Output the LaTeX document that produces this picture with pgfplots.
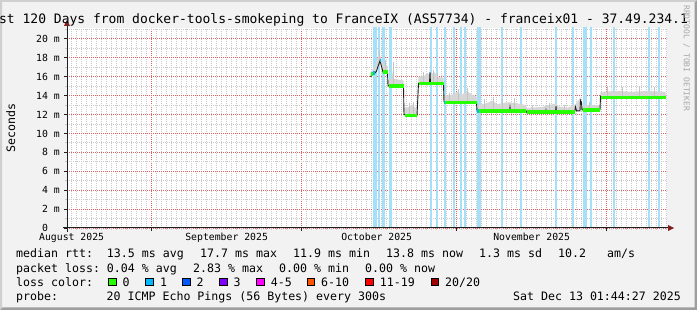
\documentclass[border=0pt]{standalone}
\usepackage{fontspec}
\setmainfont{DejaVu Sans Mono}
\usepackage{pgfplots}
\usepackage{pgfplotstable}
\pgfplotsset{compat=1.18}

\definecolor{bgc}{HTML}{F2F2F2}
\definecolor{shadea}{HTML}{CFCFCF}
\definecolor{shadeb}{HTML}{9E9E9E}
\definecolor{gridc}{HTML}{CACACA}
\definecolor{mgridc}{HTML}{E06262}
\definecolor{axisc}{HTML}{1F1F1F}
\definecolor{arrowc}{HTML}{801F1F}
\definecolor{lossbg}{RGB}{165,223,248}
\definecolor{smoke}{HTML}{D6D6D6}
\definecolor{spk}{HTML}{C4C4C4}
\definecolor{wmark}{HTML}{A8A8A8}
\definecolor{lc0}{HTML}{26FF00}
\definecolor{lc1}{HTML}{00B8FF}
\definecolor{lc2}{HTML}{0059FF}
\definecolor{lc3}{HTML}{7E00FF}
\definecolor{lc4}{HTML}{FF00FF}
\definecolor{lc6}{HTML}{FF5500}
\definecolor{lc11}{HTML}{FF0000}
\definecolor{lc20}{HTML}{A10000}

\newcommand\lfont{\fontsize{11.6bp}{13bp}\selectfont}
\newcommand\afont{\fontsize{9.8bp}{11bp}\selectfont}
\newcommand\tfont{\fontsize{13bp}{15bp}\selectfont}
\newcommand\wfont{\fontsize{8bp}{9bp}\selectfont}

% median rtt (days since start, ms)
\pgfplotstableread{
x y
60.7 16.0
61.0 16.2
61.2 16.4
61.6 16.4
61.9 16.6
62.2 17.1
62.6 17.7
62.9 17.1
63.2 16.5
64.1 16.5
64.2 15.1
64.4 15.0
67.3 15.0
67.4 12.0
70.0 11.9
70.3 15.3
72.5 15.3
72.6 16.5
72.7 15.35
75.3 15.3
75.4 13.35
81.9 13.3
82.0 12.4
88.5 12.4
88.6 12.8
88.7 12.4
91.8 12.4
91.9 12.25
95.7 12.25
95.8 12.5
95.9 12.25
97.7 12.25
97.8 12.9
97.9 12.25
101.5 12.25
101.7 12.8
101.9 12.4
102.6 12.4
102.7 13.5
102.9 13.3
103.0 12.5
106.6 12.5
106.7 13.9
106.8 13.8
119.7 13.8
}\median

% smoke: upper edge forward, then the median backward
\pgfplotstableread{
x y
60.7 16.5
61.5 17.0
62.0 17.9
62.5 18.4
62.9 17.8
63.5 17.2
64.1 17.1
64.2 15.7
65.0 15.8
65.1 16.6
65.3 15.8
67.3 15.6
67.4 12.7
68.5 12.8
69.0 13.1
69.5 12.8
70.0 12.6
70.3 16.0
71.5 16.1
72.0 16.4
72.5 16.2
72.6 16.9
72.7 16.2
73.5 16.5
74.0 16.0
75.3 15.9
75.4 14.0
77.0 14.1
78.0 14.4
79.0 14.1
80.0 14.5
81.0 14.1
81.9 13.9
82.0 13.0
84.0 13.2
85.0 13.5
86.0 13.1
88.0 13.3
88.6 13.3
90.0 13.2
91.8 13.0
91.9 12.7
95.0 12.8
97.8 13.2
98.0 12.9
100.0 12.7
101.7 13.1
102.7 13.8
103.0 12.9
104.0 13.0
106.6 13.0
106.7 14.4
110.0 14.5
113.0 14.4
116.0 14.5
119.7 14.4
119.7 13.8
106.8 13.8
106.7 13.9
106.6 12.5
103.0 12.5
102.9 13.3
102.7 13.5
102.6 12.4
101.9 12.4
101.7 12.8
101.5 12.25
97.9 12.25
97.8 12.9
97.7 12.25
95.9 12.25
95.8 12.5
95.7 12.25
91.9 12.25
91.8 12.4
88.7 12.4
88.6 12.8
88.5 12.4
82.0 12.4
81.9 13.3
75.4 13.35
75.3 15.3
72.7 15.35
72.6 16.5
72.5 15.3
70.3 15.3
70.0 11.9
67.4 12.0
67.3 15.0
64.4 15.0
64.2 15.1
64.1 16.5
63.2 16.5
62.9 17.1
62.6 17.7
62.2 17.1
61.9 16.6
61.6 16.4
61.2 16.4
61.0 16.2
60.7 16.0
}\smokepoly

% single smoke spikes
\pgfplotstableread{
x y
62.4 17.3
62.4 18.8
62.4 nan
63.6 16.6
63.6 17.8
63.6 nan
65.2 15.1
65.2 17.6
65.2 nan
68.5 12.0
68.5 13.2
68.5 nan
69.3 12.0
69.3 13.3
69.3 nan
71.3 15.4
71.3 16.5
71.3 nan
73.3 15.4
73.3 16.7
73.3 nan
74.1 15.4
74.1 16.4
74.1 nan
76.5 13.4
76.5 14.3
76.5 nan
78.2 13.4
78.2 14.7
78.2 nan
80.1 13.4
80.1 14.8
80.1 nan
83.5 12.5
83.5 13.6
83.5 nan
85.2 12.5
85.2 13.9
85.2 nan
87.1 12.5
87.1 13.6
87.1 nan
89.5 12.5
89.5 13.8
89.5 nan
93.0 12.35
93.0 13.0
93.0 nan
96.5 12.35
96.5 13.2
96.5 nan
99.5 12.35
99.5 13.0
99.5 nan
104.5 12.6
104.5 13.3
104.5 nan
108.0 13.9
108.0 15.0
108.0 nan
111.0 13.9
111.0 14.9
111.0 nan
114.5 13.9
114.5 15.0
114.5 nan
117.5 13.9
117.5 14.9
}\spikes

% median bands coloured by loss 0
\pgfplotstableread{
x y
60.8 16.3
61.2 16.3
61.2 nan
63.2 16.5
64.1 16.5
64.1 nan
64.3 15.0
67.3 15.0
67.3 nan
67.5 11.9
70.0 11.9
70.0 nan
70.35 15.3
75.3 15.3
75.3 nan
75.6 13.3
81.9 13.3
81.9 nan
82.3 12.4
91.8 12.4
91.8 nan
91.9 12.25
101.6 12.25
101.6 nan
103.2 12.5
106.6 12.5
106.6 nan
106.8 13.8
119.7 13.8
}\bandzero

% median bands coloured by loss 1
\pgfplotstableread{
x y
61.2 16.4
61.6 16.4
61.6 nan
62.5 17.7
62.7 17.7
62.7 nan
75.4 13.3
75.6 13.3
75.6 nan
82.0 12.4
82.3 12.4
}\bandone

% loss background (days)
\pgfplotstableread{
x y
61.3 22
61.5 22
61.7 22
61.9 22
62.4 22
63.1 22
63.4 22
64.45 22
64.8 22
72.8 22
74.0 22
75.6 22
77.4 22
78.8 22
79.6 22
82.2 22
82.6 22
87.0 22
90.8 22
97.8 22
101.2 22
103.4 22
103.8 22
104.8 22
109.4 22
116.4 22
118.4 22
}\lossback

\begin{document}
\frenchspacing
\begin{tikzpicture}
\fill[bgc] (0,0) rectangle (697bp,310bp);
\fill[shadea] (0,0) -- (0,310bp) -- (697bp,310bp) -- (695bp,308bp) -- (2bp,308bp) -- (2bp,2bp) -- cycle;
\fill[shadeb] (0,0) -- (697bp,0) -- (697bp,310bp) -- (694.5bp,307.5bp) -- (694.5bp,2.5bp) -- (2.5bp,2.5bp) -- cycle;

\begin{axis}[
  at={(67bp,82bp)}, anchor=south west,
  scale only axis, width=600bp, height=200bp,
  xmin=0, xmax=120, ymin=0, ymax=21.164,
  axis line style={draw=none},
  axis background/.style={fill=white},
  unbounded coords=jump,
  xtick={16.93,46.93,77.93,107.93},
  xticklabels={,,,},
  minor xtick={0.93,1.93,...,119.95},
  extra x ticks={0.93,31.93,61.93,92.93},
  extra x tick labels={August 2025,September 2025,October 2025,November 2025},
  extra x tick style={grid=none, major tick length=0pt,
     xticklabel style={anchor=base, inner sep=0pt, yshift=-12.7bp}},
  ytick={0,2,...,20},
  yticklabels={0\hphantom{\ m},2 m,4 m,6 m,8 m,10 m,12 m,14 m,16 m,18 m,20 m},
  minor ytick={1,3,...,21},
  grid=both,
  major grid style={mgridc, dash pattern=on 1bp off 1bp, line width=1bp},
  minor grid style={gridc, dash pattern=on 1bp off 1bp, line width=0.9bp},
  tick align=outside, tick pos=left,
  major tick length=3bp, minor tick length=2bp,
  major tick style={axisc, line width=1bp},
  minor tick style={gridc, line width=1bp},
  tick label style={font=\afont},
  yticklabel style={anchor=east, inner sep=0pt, xshift=-4bp},
  ylabel={Seconds},
  every axis y label/.style={at={(axis description cs:-0.0938,0.5)}, anchor=center, rotate=90, font=\lfont},
]
\addplot[ycomb, draw=lossbg, line width=1.4bp, mark=none, forget plot] table {\lossback};
\addplot[fill=smoke, draw=none, forget plot] table {\smokepoly} -- cycle;
\addplot[spk, line width=1bp, forget plot] table {\spikes};
\addplot[black!88, line width=0.9bp, forget plot] table {\median};
\addplot[lc0, line width=3.5bp, line cap=butt, forget plot] table {\bandzero};
\addplot[lc1, line width=3.5bp, line cap=butt, forget plot] table {\bandone};
\end{axis}

% axes and arrows (rrdtool style)
\draw[axisc, line width=1bp] (63bp,82bp) -- (671bp,82bp);
\draw[axisc, line width=1bp] (67bp,78bp) -- (67bp,286bp);
\fill[arrowc] (668bp,85bp) -- (668bp,79bp) -- (674bp,82bp) -- cycle;
\fill[arrowc] (64bp,284bp) -- (70bp,284bp) -- (67bp,290bp) -- cycle;

% title (clipped by the page) and watermark
\node[overlay, anchor=base west, inner sep=0pt, font=\tfont] at (-16.7bp,286bp)
  {Last 120 Days from docker-tools-smokeping to FranceIX (AS57734) - franceix01 - 37.49.234.1};
\node[anchor=west, inner sep=0pt, rotate=-90, font=\wfont, text=wmark] at (686.5bp,305bp)
  {RRDTOOL / TOBI OETIKER};

% legend
\begin{scope}[every node/.style={anchor=base west, inner sep=0pt, font=\lfont}]
\node at (16bp,52bp) {median rtt:\ \ 13.5 ms avg};
\node at (200bp,52bp) {17.7 ms max};
\node at (293bp,52bp) {11.9 ms min};
\node at (386bp,52bp) {13.8 ms now};
\node at (479bp,52bp) {1.3 ms sd};
\node at (558bp,52bp) {10.2\ \ \ am/s};

\node at (16bp,38bp) {packet loss: 0.04 \% avg};
\node at (193bp,38bp) {2.83 \% max};
\node at (279bp,38bp) {0.00 \% min};
\node at (365bp,38bp) {0.00 \% now};

\node at (16bp,24bp) {loss color:};
\node at (16bp,10bp) {probe:};
\node at (106.5bp,10bp) {20 ICMP Echo Pings (56 Bytes) every 300s};
\node[anchor=base east] at (681bp,10bp) {Sat Dec 13 01:44:27 2025};

\foreach \bx/\col/\lab in {108.5/lc0/0, 145.8/lc1/1, 182.5/lc2/2, 219.5/lc3/3, 256.7/lc4/{4-5}, 307/lc6/{6-10}, 365.7/lc11/{11-19}, 431/lc20/{20/20}}{
  \filldraw[fill=\col, draw=black, line width=0.9bp] (\bx bp,24.5bp) rectangle ++(7.5bp,7.5bp);
  \node at (\bx bp+14bp,24bp) {\lab};
}
\end{scope}
\end{tikzpicture}
\end{document}
